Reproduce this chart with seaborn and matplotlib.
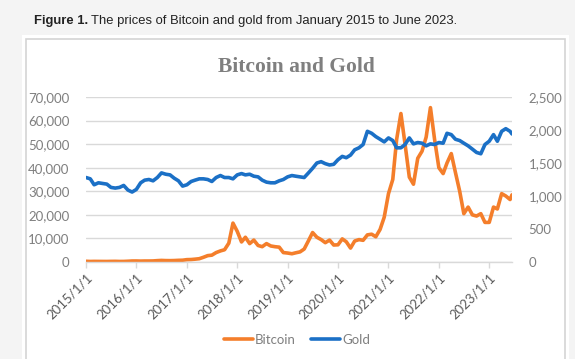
import numpy as np
import pandas as pd
import matplotlib as mpl
mpl.use('Agg')
import matplotlib.pyplot as plt
import matplotlib.patches as mpatches
from matplotlib.lines import Line2D
import seaborn as sns

# monthly values, Jan 2015 .. Jun 2023, plus mid June 2023
bitcoin_2015 = [300, 230, 260, 245, 235, 225, 260, 280, 230, 240, 320, 420]
bitcoin_2016 = [430, 380, 420, 420, 450, 580, 670, 600, 580, 620, 710, 760]
bitcoin_2017 = [1000, 1050, 1200, 1400, 2000, 2700, 2900, 4000, 4700, 5200, 8000, 16500]
bitcoin_2018 = [13000, 8500, 10500, 7800, 9300, 7000, 6500, 7800, 6800, 6500, 6300, 4000]
bitcoin_2019 = [3800, 3500, 3900, 4300, 5500, 9000, 12500, 10500, 9500, 8200, 9300, 7200]
bitcoin_2020 = [7300, 9800, 8600, 5900, 8900, 9500, 9200, 11500, 11800, 10700, 13800, 19000]
bitcoin_2021 = [29000, 35000, 52000, 63000, 50000, 36000, 33000, 44000, 47000, 53000, 65500, 52000]
bitcoin_2022 = [40000, 37500, 42000, 46000, 38000, 30000, 20500, 23300, 20000, 19500, 20500, 16800]
bitcoin_2023 = [16800, 23300, 22500, 29000, 28000, 26500, 28500]

gold_2015 = [1280, 1260, 1170, 1200, 1190, 1180, 1130, 1120, 1130, 1160, 1090, 1060]
gold_2016 = [1100, 1200, 1240, 1250, 1230, 1280, 1350, 1330, 1320, 1270, 1230, 1150]
gold_2017 = [1170, 1220, 1240, 1260, 1260, 1250, 1220, 1280, 1310, 1280, 1280, 1260]
gold_2018 = [1320, 1340, 1320, 1330, 1300, 1290, 1240, 1210, 1200, 1200, 1230, 1250]
gold_2019 = [1290, 1310, 1300, 1290, 1280, 1350, 1420, 1500, 1520, 1490, 1470, 1480]
gold_2020 = [1550, 1600, 1580, 1620, 1700, 1730, 1780, 1980, 1950, 1900, 1860, 1820]
gold_2021 = [1880, 1840, 1730, 1730, 1780, 1880, 1790, 1810, 1800, 1760, 1790, 1780]
gold_2022 = [1810, 1800, 1950, 1930, 1860, 1840, 1800, 1760, 1710, 1660, 1640, 1780]
gold_2023 = [1830, 1930, 1830, 1980, 2020, 1980, 1940]

year_ticks = ['2015/1/1', '2016/1/1', '2017/1/1', '2018/1/1', '2019/1/1',
              '2020/1/1', '2021/1/1', '2022/1/1', '2023/1/1']
left_ticks = [0, 10000, 20000, 30000, 40000, 50000, 60000, 70000]
right_ticks = [0, 500, 1000, 1500, 2000, 2500]

dates = list(pd.date_range('2015-01-01', '2023-06-01', freq='MS')) + [pd.Timestamp('2023-06-15')]
df = pd.DataFrame({
    'date': dates,
    'Bitcoin': bitcoin_2015 + bitcoin_2016 + bitcoin_2017 + bitcoin_2018 + bitcoin_2019
               + bitcoin_2020 + bitcoin_2021 + bitcoin_2022 + bitcoin_2023,
    'Gold': gold_2015 + gold_2016 + gold_2017 + gold_2018 + gold_2019
            + gold_2020 + gold_2021 + gold_2022 + gold_2023,
})

btc_color = '#F47E2B'
gold_color = '#1B70C6'
ylab_color = '#7F7F7F'
xlab_color = '#595959'
grid_color = '#D9D9D9'

sns.set_theme(style='white')
plt.rcParams['font.family'] = ['Lato', 'DejaVu Sans']

W, H = 575, 359
fig = plt.figure(figsize=(W / 100, H / 100), dpi=100, facecolor='#F4F4F4')

# white card and its grey frame, kept behind the axes
fig.patches.append(mpatches.Rectangle((22 / W, -0.1), (569 - 22) / W, (H - 35) / H + 0.1,
                                      transform=fig.transFigure, facecolor='white',
                                      edgecolor='none', zorder=-10))
fig.patches.append(mpatches.Rectangle((26 / W, -0.1), (565 - 26) / W, (H - 39) / H + 0.1,
                                      transform=fig.transFigure, facecolor='white',
                                      edgecolor='#D4D4D4', linewidth=1.2, zorder=-9))

# caption
cap = fig.text(34 / W, 1 - 24 / H, 'Figure 1.', fontsize=9.4, fontweight='bold',
               family='Liberation Sans', color='#222222', va='baseline')
fig.canvas.draw()
bb = cap.get_window_extent()
fig.text((bb.x1 + 3) / W, 1 - 24 / H, 'The prices of Bitcoin and gold from January 2015 to June 2023.',
         fontsize=9.4, family='Liberation Sans', color='#222222', va='baseline')

# chart title
fig.text(296 / W, 1 - 72 / H, 'Bitcoin and Gold', fontsize=15.5, fontweight='bold',
         family='Liberation Serif', color='#7F7F7F', ha='center', va='baseline')

ax = fig.add_axes([86 / W, 1 - 262 / H, (512 - 86) / W, (262 - 97) / H])
ax.set_facecolor('none')
ax2 = ax.twinx()

sns.lineplot(data=df, x='date', y='Bitcoin', ax=ax, color=btc_color, linewidth=2.6)
sns.lineplot(data=df, x='date', y='Gold', ax=ax2, color=gold_color, linewidth=2.6)

ax.set_ylim(0, 70000)
ax2.set_ylim(0, 2500)
ax.set_xlim(pd.Timestamp('2015-01-01'), pd.Timestamp('2023-06-15'))

ax.set_yticks(left_ticks)
ax.set_yticklabels([f'{v:,}' for v in left_ticks])
ax2.set_yticks(right_ticks)
ax2.set_yticklabels([f'{v:,}' for v in right_ticks])

tick_dates = [pd.Timestamp(t.replace('/', '-')) for t in year_ticks]
ax.set_xticks(tick_dates)
ax.set_xticklabels(year_ticks, rotation=45, ha='right', rotation_mode='anchor')

ax.grid(axis='y', color=grid_color, linewidth=1)
ax.set_axisbelow(True)
for a in (ax, ax2):
    a.set_xlabel('')
    a.set_ylabel('')
    for s in a.spines.values():
        s.set_visible(False)
ax.spines['bottom'].set_visible(True)
ax.spines['bottom'].set_color(grid_color)
ax.spines['bottom'].set_linewidth(1)

ax.tick_params(axis='y', length=0, pad=12, labelsize=9.5, labelcolor=ylab_color)
ax2.tick_params(axis='y', length=0, pad=12, labelsize=9.5, labelcolor=ylab_color)
ax.tick_params(axis='x', bottom=True, length=4, width=1, color=grid_color, direction='out',
               pad=3, labelsize=9.5, labelcolor=xlab_color)

handles = [Line2D([], [], color=btc_color, linewidth=2.6),
           Line2D([], [], color=gold_color, linewidth=2.6)]
fig.legend(handles, ['Bitcoin', 'Gold'], loc='center', bbox_to_anchor=(297 / W, 1 - 340 / H),
           ncol=2, frameon=False, fontsize=9.5, handlelength=2.2, handletextpad=0.15,
           columnspacing=1.2, labelcolor=ylab_color)

fig.savefig('out.png', dpi=100, facecolor=fig.get_facecolor())
